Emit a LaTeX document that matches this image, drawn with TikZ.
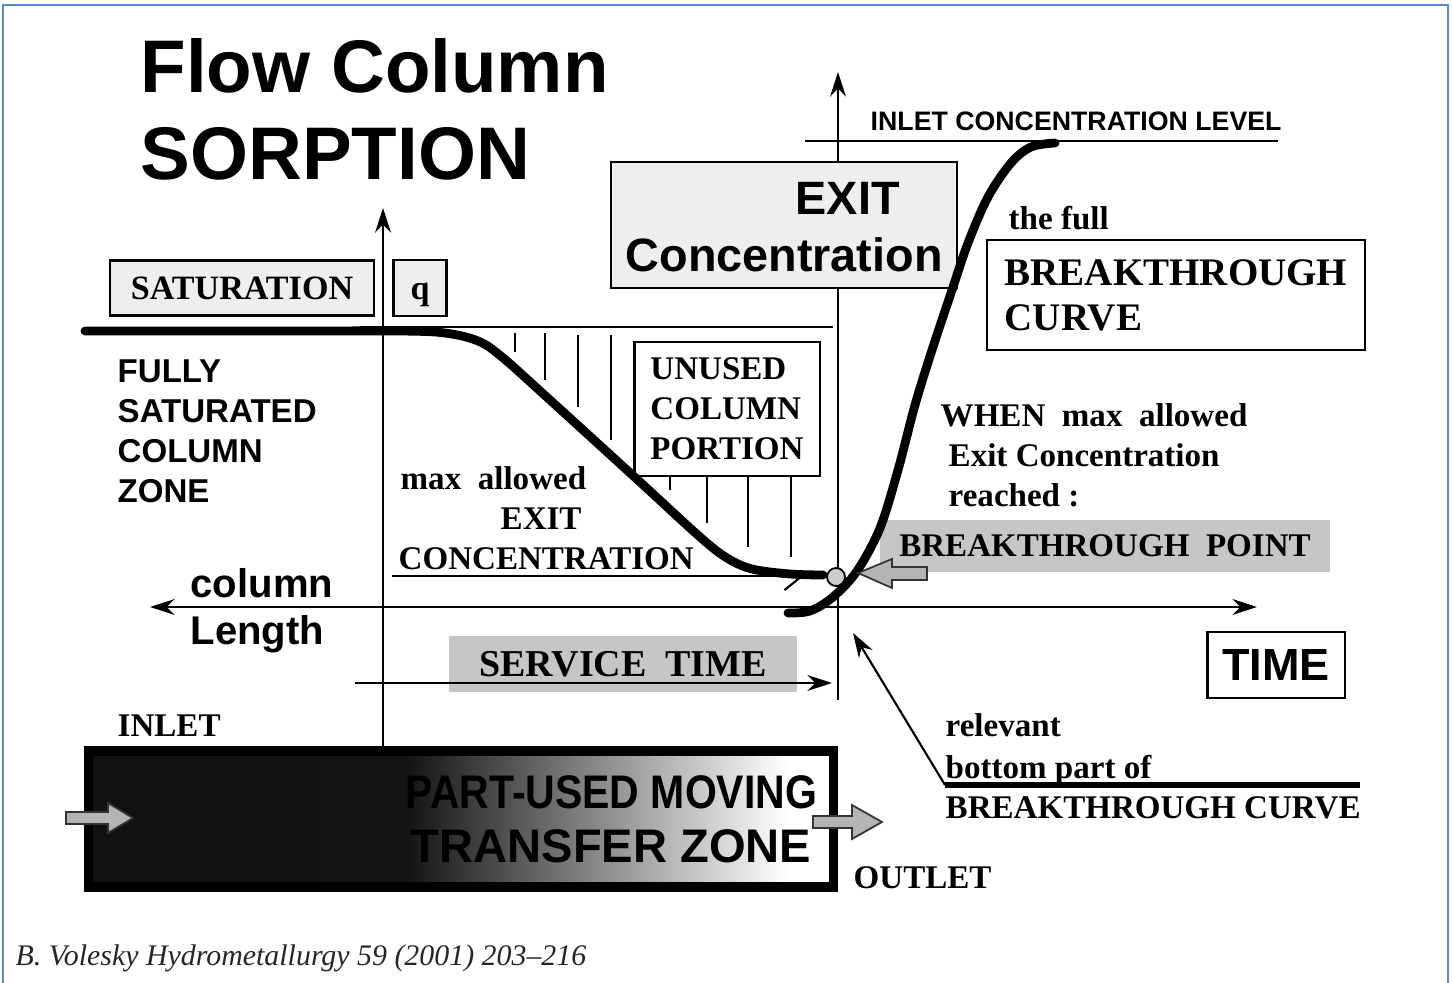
\documentclass[tikz,border=0pt]{standalone}
\usepackage{fontspec}
\usepackage{graphicx}
\setmainfont{Liberation Serif}
\newfontfamily\helv{Liberation Sans}
\usetikzlibrary{arrows.meta}
\definecolor{framecol}{HTML}{5B87C5}
\definecolor{shadegray}{HTML}{C6C6C6}
\definecolor{lightbox}{HTML}{EEEEEE}
\definecolor{arrowgray}{HTML}{B4B4B4}
\pgfdeclarehorizontalshading{columnshade}{100bp}{color(0bp)=(black!95); color(46.4bp)=(black!92); color(72bp)=(white); color(100bp)=(white)}
\begin{document}
\begin{tikzpicture}[x=0.01cm, y=-0.01cm, >={Stealth[length=7pt,width=4.5pt]},
  tlab/.style={font=\bfseries\fontsize{9.4}{11.4}\selectfont, anchor=base west, inner sep=0pt},
  hlab/.style={font=\helv\bfseries\fontsize{9.4}{11.4}\selectfont, anchor=base west, inner sep=0pt},
  thinline/.style={line width=0.6pt},
  curveline/.style={line width=2.5pt, line cap=round, line join=round},
  greybox/.style={draw, line width=0.6pt, fill=lightbox, inner sep=0pt},
  plainbox/.style={draw, line width=0.6pt, fill=white, inner sep=0pt},
  shadebox/.style={fill=shadegray, inner sep=0pt},
  blockarrow/.style={draw=black!80, line width=0.5pt, fill=arrowgray}]
\useasboundingbox (0,0) rectangle (1452,983);
% frame
\draw[framecol, line width=0.7pt] (3,983) -- (3,5) -- (1448,5) -- (1448,983);

% title
\node[font=\helv\bfseries\fontsize{21.2}{25}\selectfont, anchor=base west, inner sep=0pt] (title1) at (140,93) {Flow Column};
\node[font=\helv\bfseries\fontsize{21.2}{25}\selectfont, anchor=base west, inner sep=0pt] (title2) at (140,180) {SORPTION};

% axes
\coordinate (qtop) at (383,208);
\coordinate (qfoot) at (383,748);
\coordinate (ctop) at (838,72);
\coordinate (cfoot) at (838,700);
\coordinate (orig) at (838,607);
\coordinate (lenend) at (150,607);
\coordinate (timeend) at (1257,607);
\draw[thinline, ->] (qfoot) -- (qtop);
\draw[thinline, ->] (cfoot) -- (ctop);
\draw[thinline, ->] (orig) -- (lenend);
\draw[thinline, ->] (orig) -- (timeend);

% level lines
\coordinate (satl) at (360,327); \coordinate (satr) at (833,327);
\draw[thinline] (satl) -- (satr);
\coordinate (inl) at (805,141); \coordinate (inr) at (1278,141);
\draw[thinline] (inl) -- (inr);
\coordinate (maxl) at (392,576); \coordinate (maxr) at (805,576);
\draw[thinline, -{Straight Barb[harpoon,swap,length=5pt,width=8pt]}] (maxl) -- (maxr);

% unused portion hatching
\foreach \x/\ya/\yb in {515/333/352, 545/333/380, 578/335/407, 611/335/440, 670/477/490, 707/477/523, 748/477/547, 791/477/557}
  \draw[thinline] (\x,\ya) -- (\x,\yb);

% boxes
\node[greybox, minimum width=2.64cm, minimum height=0.55cm, font=\bfseries\fontsize{9.7}{11}\selectfont] (satbox) at (242,288) {SATURATION};
\node[greybox, minimum width=0.53cm, minimum height=0.56cm] (qbox) at (420,288) {};
\node[tlab, font=\bfseries\fontsize{9.7}{11}\selectfont] (qlabel) at (410,300) {q};
\node[greybox, minimum width=3.45cm, minimum height=1.26cm] (exitbox) at (784,225) {};
\node[hlab, font=\helv\bfseries\fontsize{13.3}{15}\selectfont] (exit1) at (795,215) {EXIT};
\node[hlab, font=\helv\bfseries\fontsize{13.3}{15}\selectfont] (exit2) at (625,272) {Concentration};
\node[plainbox, minimum width=1.85cm, minimum height=1.34cm, align=left, font=\bfseries\fontsize{9.4}{11.4}\selectfont] (unusedbox) at (727,409) {UNUSED\\COLUMN\\PORTION};
\node[plainbox, minimum width=3.78cm, minimum height=1.10cm, align=left, font=\bfseries\fontsize{11.1}{12.8}\selectfont] (curvebox) at (1176,295) {BREAKTHROUGH\\CURVE};
\node[shadebox, minimum width=3.48cm, minimum height=0.56cm, font=\bfseries\fontsize{10.8}{12}\selectfont] (servbox) at (623,664) {SERVICE\ \ TIME};
\node[shadebox, minimum width=4.5cm, minimum height=0.52cm, font=\bfseries\fontsize{9.4}{11}\selectfont] (pointbox) at (1105,546) {BREAKTHROUGH\ \ POINT};
\node[plainbox, minimum width=1.37cm, minimum height=0.66cm, font=\helv\bfseries\fontsize{12.8}{14}\selectfont] (timebox) at (1276,665) {TIME};

% service time arrow
\coordinate (servl) at (355,683); \coordinate (servr) at (832,683);
\draw[thinline, ->] (servl) -- (servr);

% sorption profile and breakthrough curve
\draw[curveline] plot[smooth, tension=0.55] coordinates {(85,331) (300,331) (400,331) (445,333) (478,341) (502,357) (550,400) (640,482) (700,537) (727,558) (752,569) (790,574) (823,575)};
\draw[curveline] plot[smooth, tension=0.55] coordinates {(788,613) (810,611) (833,597) (857,571) (880,528) (898,470) (915,405) (932,350) (952,290) (968,243) (988,197) (1011,163) (1031,147) (1055,143)};
\node[circle, draw, line width=0.5pt, fill=gray!40, minimum size=0.18cm, inner sep=0pt] (bpoint) at (836,577) {};
\filldraw[blockarrow] (858,573) -- (892,559) -- (892,567) -- (927,567) -- (927,580) -- (892,580) -- (892,588) -- cycle;

% pointer to bottom part
\coordinate (relfoot) at (945,785); \coordinate (reltip) at (853,633); \coordinate (relend) at (1360,785);
\draw[thinline, ->] (relfoot) -- (reltip);
\draw[line width=1.7pt] (relfoot) -- (relend);

% texts
\node[hlab, font=\helv\bfseries\fontsize{7.6}{9}\selectfont] (inlevel) at (870,131) {INLET CONCENTRATION LEVEL};
\node[tlab] (thefull) at (1008,230) {the full};
\foreach \txt [count=\i] in {FULLY,SATURATED,COLUMN,ZONE}
  \node[hlab] (satzone\i) at (117,{343+40*\i}) {\txt};
\node[hlab, font=\helv\bfseries\fontsize{11.4}{13}\selectfont] (collen1) at (190,598) {column};
\node[hlab, font=\helv\bfseries\fontsize{11.4}{13}\selectfont] (collen2) at (190,645) {Length};
\node[tlab] (maxexit1) at (400,490) {max\ \ allowed};
\node[tlab] (maxexit2) at (500,530) {EXIT};
\node[tlab] (maxexit3) at (398,570) {CONCENTRATION};
\node[tlab] (when1) at (940,427) {WHEN\ \ max\ \ allowed};
\node[tlab] (when2) at (948,467) {Exit Concentration};
\node[tlab] (when3) at (948,507) {reached :};
\node[tlab] (rel1) at (945,737) {relevant};
\node[tlab] (rel2) at (945,778) {bottom part of};
\node[tlab] (rel3) at (945,818) {BREAKTHROUGH CURVE};
\node[tlab] (inlet) at (117,737) {INLET};
\node[tlab] (outlet) at (853,888) {OUTLET};

% the column
\node[draw, line width=2.6pt, shade, shading=columnshade, minimum width=7.44cm, minimum height=1.36cm, inner sep=0pt] (column) at (461,819) {};
\node[hlab, font=\helv\bfseries\fontsize{13.4}{15}\selectfont] (zone1) at (405,808) {\scalebox{0.87}[1]{PART-USED MOVING}};
\node[hlab, font=\helv\bfseries\fontsize{13.4}{15}\selectfont] (zone2) at (410,862) {TRANSFER ZONE};
\filldraw[blockarrow] (66,812) -- (108,812) -- (108,803) -- (133,818) -- (108,833) -- (108,824) -- (66,824) -- cycle;
\filldraw[blockarrow] (813,816) -- (852,816) -- (852,805) -- (882,822) -- (852,839) -- (852,828) -- (813,828) -- cycle;

% source
\node[anchor=base west, inner sep=0pt, font=\itshape\fontsize{8.5}{10}\selectfont, text=black!85] (source) at (15,965) {B. Volesky Hydrometallurgy 59 (2001) 203--216};
\end{tikzpicture}
\end{document}
